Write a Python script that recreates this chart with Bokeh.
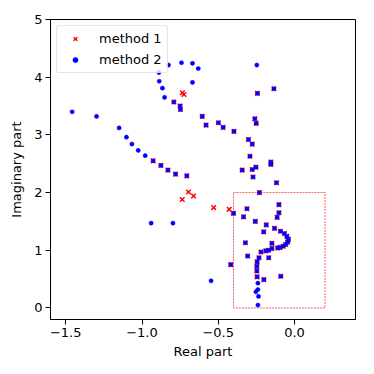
from bokeh.plotting import figure
from bokeh.models import Range1d, FixedTicker, CustomJSTickFormatter, Legend, LegendItem
from bokeh.embed import file_html
from bokeh.resources import INLINE

# method 1 (red x)
m1_re = [-0.927, -0.876, -0.830, -0.780, -0.706, -0.791, -0.750, -0.748,
         -0.605, -0.580, -0.499, -0.468, -0.397, -0.243, -0.135, -0.260, -0.251,
         -0.302, -0.277, -0.292, -0.155, -0.155, -0.343, -0.277, -0.253, -0.272,
         -0.118, -0.230, -0.400, -0.312, -0.334, -0.257, -0.102, -0.102, -0.114,
         -0.185, -0.202, -0.131, -0.092, -0.066, -0.050, -0.040, -0.045, -0.058,
         -0.074, -0.094, -0.110, -0.148, -0.148, -0.170, -0.188, -0.220, -0.233,
         -0.245, -0.247, -0.247, -0.245, -0.322, -0.307, -0.169, -0.201, -0.090,
         -0.418,
         -0.735, -0.725, -0.695, -0.736, -0.662, -0.530, -0.428]
m1_im = [2.55, 2.47, 2.39, 2.32, 2.29, 3.57, 3.50, 3.44,
         3.32, 3.17, 3.21, 3.13, 3.06, 3.72, 3.80, 3.28, 3.20,
         2.92, 2.84, 2.63, 2.53, 2.49, 2.39, 2.40, 2.44, 2.27,
         2.17, 2.00, 1.64, 1.72, 1.58, 1.50, 1.79, 1.65, 1.57,
         1.44, 1.32, 1.38, 1.33, 1.29, 1.24, 1.19, 1.14, 1.10,
         1.07, 1.05, 1.04, 1.12, 1.03, 1.00, 0.99, 0.97, 0.87,
         0.80, 0.72, 0.64, 0.54, 1.13, 0.90, 0.87, 0.49, 0.55,
         0.75,
         3.73, 3.70, 2.01, 1.88, 1.94, 1.74, 1.71]

# method 2 (blue dots)
m2_re = [-0.927, -0.876, -0.830, -0.780, -0.706, -0.791, -0.750, -0.748,
         -0.605, -0.580, -0.499, -0.468, -0.397, -0.243, -0.135, -0.260, -0.251,
         -0.302, -0.277, -0.292, -0.155, -0.155, -0.343, -0.277, -0.253, -0.272,
         -0.118, -0.230, -0.400, -0.312, -0.334, -0.257, -0.102, -0.102, -0.114,
         -0.185, -0.202, -0.131, -0.092, -0.066, -0.050, -0.040, -0.045, -0.058,
         -0.074, -0.094, -0.110, -0.148, -0.148, -0.170, -0.188, -0.220, -0.233,
         -0.245, -0.247, -0.247, -0.245, -0.322, -0.307, -0.169, -0.201, -0.090,
         -0.418,
         -0.826, -0.741, -0.669, -0.631, -0.889, -0.887, -0.669, -0.866, -0.852,
         -1.458, -1.298, -1.150, -1.102, -1.066, -1.025, -0.979, -0.247,
         -0.940, -0.797, -0.547, -0.240, -0.240, -0.253, -0.236, -0.240]
m2_im = [2.55, 2.47, 2.39, 2.32, 2.29, 3.57, 3.50, 3.44,
         3.32, 3.17, 3.21, 3.13, 3.06, 3.72, 3.80, 3.28, 3.20,
         2.92, 2.84, 2.63, 2.53, 2.49, 2.39, 2.40, 2.44, 2.27,
         2.17, 2.00, 1.64, 1.72, 1.58, 1.50, 1.79, 1.65, 1.57,
         1.44, 1.32, 1.38, 1.33, 1.29, 1.24, 1.19, 1.14, 1.10,
         1.07, 1.05, 1.04, 1.12, 1.03, 1.00, 0.99, 0.97, 0.87,
         0.80, 0.72, 0.64, 0.54, 1.13, 0.90, 0.87, 0.49, 0.55,
         0.75,
         4.21, 4.25, 4.24, 4.15, 4.08, 3.93, 3.91, 3.81, 3.65,
         3.40, 3.32, 3.12, 2.96, 2.84, 2.73, 2.64, 4.21,
         1.47, 1.47, 0.47, 0.43, 0.32, 0.28, 0.20, 0.05]

# zoom box (dashed rectangle)
box_left = [-0.4]
box_right = [0.2]
box_bottom = [0.0]
box_top = [2.0]

x_ticks = [-1.5, -1.0, -0.5, 0.0]
y_ticks = [0, 1, 2, 3, 4, 5]
x_limits = [-1.6, 0.4]
y_limits = [-0.2, 5.0]

FONT = "DejaVu Sans"

p = figure(width=366, height=366, output_backend="svg", toolbar_location=None,
           x_range=Range1d(*x_limits), y_range=Range1d(*y_limits),
           min_border_left=50, min_border_right=11, min_border_top=19, min_border_bottom=47)
p.xgrid.visible = False
p.ygrid.visible = False
p.outline_line_color = "black"
p.outline_line_width = 1
p.background_fill_color = "white"
p.border_fill_color = "white"

for ax in (p.xaxis[0], p.yaxis[0]):
    ax.axis_line_color = "black"
    ax.major_tick_line_color = "black"
    ax.major_tick_out = 5
    ax.major_tick_in = 0
    ax.minor_tick_line_color = None
    ax.major_label_text_font = FONT
    ax.major_label_text_font_size = "13px"
    ax.major_label_text_color = "black"
    ax.axis_label_text_font = FONT
    ax.axis_label_text_font_size = "13px"
    ax.axis_label_text_font_style = "normal"
    ax.axis_label_text_color = "black"

p.xaxis.ticker = FixedTicker(ticks=x_ticks)
p.yaxis.ticker = FixedTicker(ticks=y_ticks)
p.xaxis.formatter = CustomJSTickFormatter(code="return tick.toFixed(1).replace('-', '\u2212');")
p.yaxis.formatter = CustomJSTickFormatter(code="return tick.toFixed(0).replace('-', '\u2212');")
p.xaxis.axis_label = "Real part"
p.yaxis.axis_label = "Imaginary part"
p.xaxis.major_label_standoff = 3
p.yaxis.major_label_standoff = 3
p.xaxis.axis_label_standoff = 4
p.yaxis.axis_label_standoff = 7

p.quad(left=box_left, right=box_right, bottom=box_bottom, top=box_top,
       fill_color=None, line_color="red", line_width=0.8, line_dash="2 1", line_alpha=0.8)

r1 = p.scatter(m1_re, m1_im, marker="x", size=6.5, line_color="red", line_width=1.5)
r2 = p.scatter(m2_re, m2_im, marker="circle", size=4.2, fill_color="blue",
               line_color="blue", line_width=0.5)

legend = Legend(items=[LegendItem(label="method 1", renderers=[r1]),
                       LegendItem(label="method 2", renderers=[r2])],
                location="top_left")
legend.label_text_font = FONT
legend.label_text_font_size = "13px"
legend.label_text_color = "black"
legend.border_line_color = "#cccccc"
legend.border_line_width = 1
legend.border_radius = 3
legend.background_fill_alpha = 0.8
legend.margin = 6
legend.padding = 5
legend.spacing = 6
legend.label_height = 13
legend.glyph_width = 26
legend.glyph_height = 13
legend.label_standoff = 11
p.add_layout(legend)

open("out.html", "w").write(file_html(p, INLINE))
